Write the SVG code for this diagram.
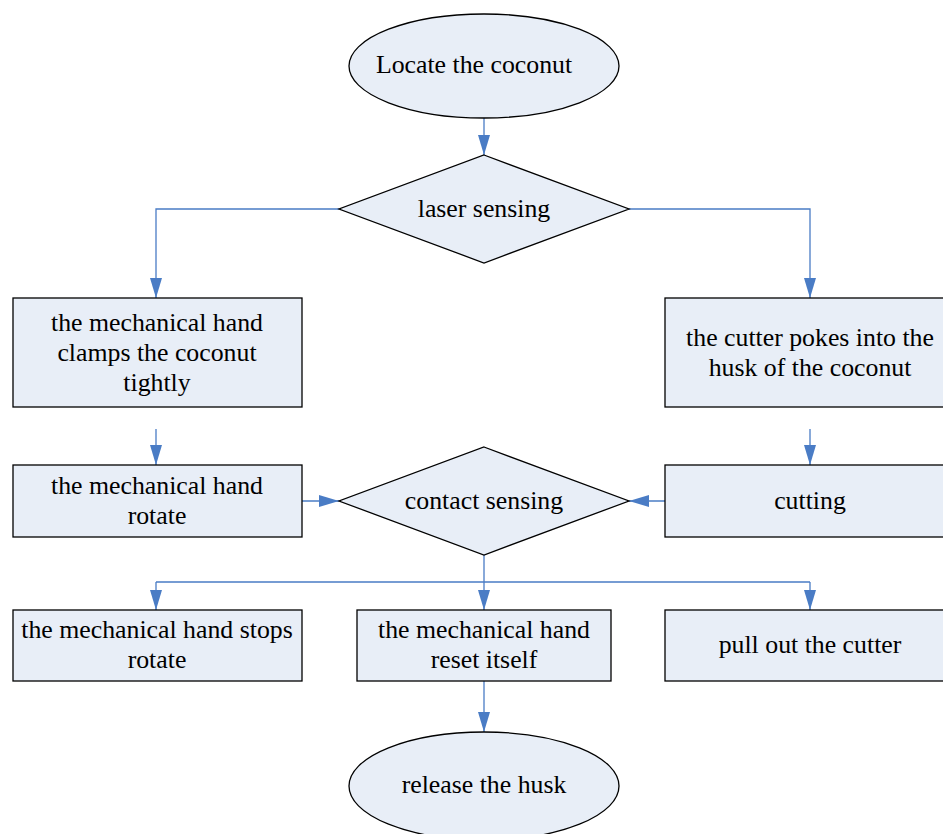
<svg xmlns="http://www.w3.org/2000/svg" width="943" height="834" viewBox="0 0 943 834">
<style>
.n{fill:#E8EEF7;stroke:#000;stroke-width:1.3}
.t{font-family:"Liberation Serif","Times New Roman",serif;font-size:25.8px;fill:#000;text-anchor:middle}
.c{fill:none;stroke:#4A7CC5;stroke-width:1.3}
</style>
<defs>
<marker id="ah" viewBox="0 0 20 12" refX="20" refY="6" markerWidth="20" markerHeight="12" markerUnits="userSpaceOnUse" orient="auto">
<path d="M0,0 L20,6 L0,12 Z" fill="#4A7CC5"/>
</marker>
</defs>
<rect width="943" height="834" fill="#fff"/>
<g id="connectors">
<path class="c" marker-end="url(#ah)" d="M484,118 L484,155"/>
<path class="c" marker-end="url(#ah)" d="M339,209 L156,209 L156,298"/>
<path class="c" marker-end="url(#ah)" d="M629,209 L810,209 L810,298"/>
<path class="c" marker-end="url(#ah)" d="M156,429 L156,465"/>
<path class="c" marker-end="url(#ah)" d="M810,429 L810,465"/>
<path class="c" marker-end="url(#ah)" d="M302,501 L339,501"/>
<path class="c" marker-end="url(#ah)" d="M665,501 L629,501"/>
<path class="c" d="M484,555 L484,582 M156,582 L810,582"/>
<path class="c" marker-end="url(#ah)" d="M156,582 L156,610"/>
<path class="c" marker-end="url(#ah)" d="M484,582 L484,610"/>
<path class="c" marker-end="url(#ah)" d="M810,582 L810,610"/>
<path class="c" marker-end="url(#ah)" d="M484,681 L484,732"/>
</g>
<g id="locate">
<ellipse class="n" cx="484" cy="66" rx="135" ry="52"/>
<text class="t" x="474" y="73">Locate the coconut</text>
</g>
<g id="laser">
<polygon class="n" points="484,155 629,209 484,263 339,209"/>
<text class="t" x="484" y="217">laser sensing</text>
</g>
<g id="clamp">
<rect class="n" x="13" y="298" width="289" height="109"/>
<text class="t" x="157" y="331">the mechanical hand</text>
<text class="t" x="157" y="361">clamps the coconut</text>
<text class="t" x="157" y="391">tightly</text>
</g>
<g id="poke">
<rect class="n" x="665" y="298" width="292" height="109"/>
<text class="t" x="810" y="346">the cutter pokes into the</text>
<text class="t" x="810" y="376">husk of the coconut</text>
</g>
<g id="rotate">
<rect class="n" x="13" y="465" width="289" height="72"/>
<text class="t" x="157" y="494">the mechanical hand</text>
<text class="t" x="157" y="524">rotate</text>
</g>
<g id="contact">
<polygon class="n" points="484,447 629,501 484,555 339,501"/>
<text class="t" x="484" y="509">contact sensing</text>
</g>
<g id="cutting">
<rect class="n" x="665" y="465" width="292" height="72"/>
<text class="t" x="810" y="509">cutting</text>
</g>
<g id="stops">
<rect class="n" x="13" y="610" width="289" height="71"/>
<text class="t" x="157" y="638">the mechanical hand stops</text>
<text class="t" x="157" y="668">rotate</text>
</g>
<g id="reset">
<rect class="n" x="357" y="610" width="254" height="71"/>
<text class="t" x="484" y="638">the mechanical hand</text>
<text class="t" x="484" y="668">reset itself</text>
</g>
<g id="pullout">
<rect class="n" x="665" y="610" width="292" height="71"/>
<text class="t" x="810" y="653">pull out the cutter</text>
</g>
<g id="release">
<ellipse class="n" cx="484" cy="786" rx="135" ry="54"/>
<text class="t" x="484" y="793">release the husk</text>
</g>
</svg>
